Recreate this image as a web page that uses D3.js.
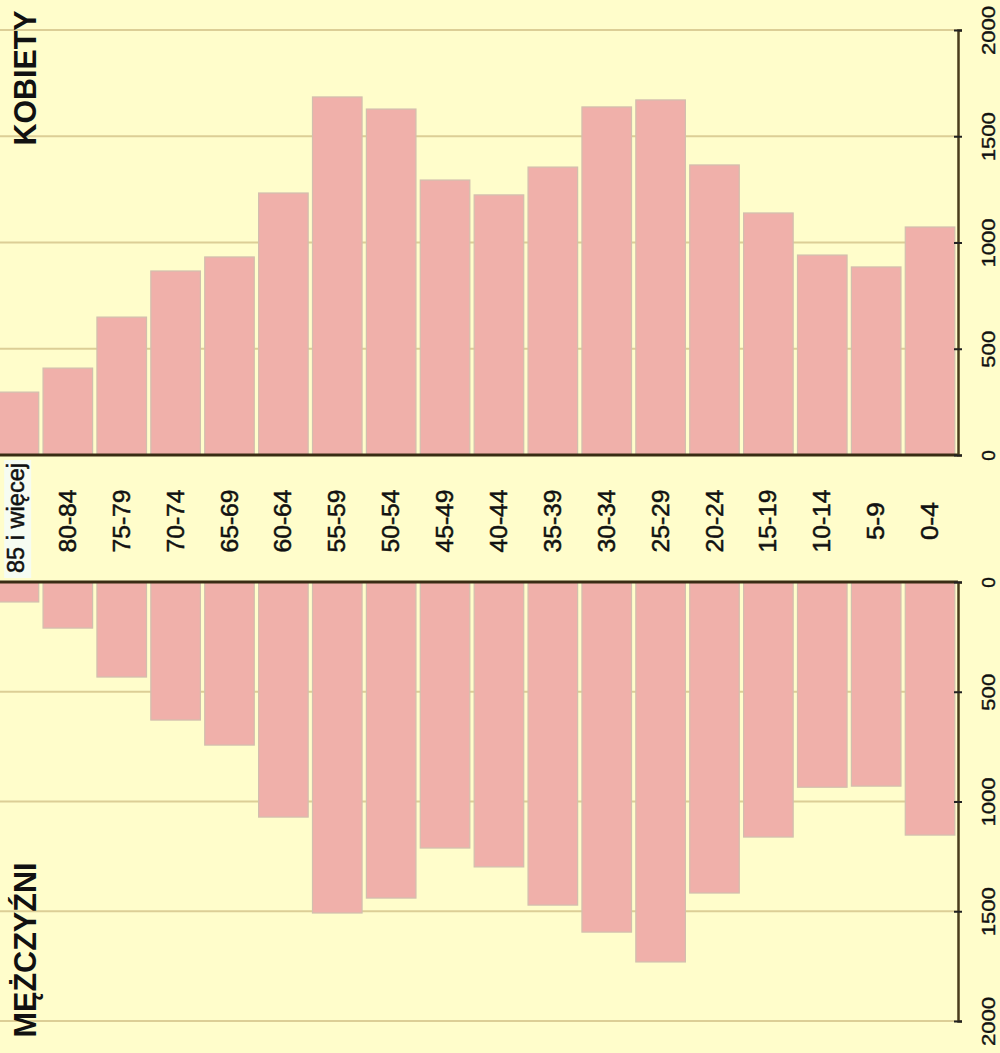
<!DOCTYPE html>
<html>
<head>
<meta charset="utf-8">
<script src="https://cdn.jsdelivr.net/npm/d3@7"></script>
<style>
html,body{margin:0;padding:0;background:#FFFDCB;}
svg{display:block;}
</style>
</head>
<body>
<svg id="chart" width="1000" height="1053"></svg>
<script>
const categories = ["85 i więcej","80-84","75-79","70-74","65-69","60-64","55-59","50-54","45-49","40-44","35-39","30-34","25-29","20-24","15-19","10-14","5-9","0-4"];
const women = [296, 409, 649, 866, 932, 1233, 1685, 1628, 1294, 1224, 1355, 1638, 1671, 1365, 1139, 941, 885, 1073];
const men = [91, 210, 433, 629, 743, 1071, 1508, 1440, 1212, 1298, 1472, 1595, 1731, 1417, 1162, 935, 930, 1153];
const tickValues = [0, 500, 1000, 1500, 2000];
const womenTitle = "KOBIETY";
const menTitle = "MĘŻCZYŹNI";

const svg = d3.select("#chart");
const W = 1000, H = 1053;
const font = "'Liberation Sans', Arial, sans-serif";
const axisX = 958;

svg.append("rect").attr("width", W).attr("height", H).attr("fill", "#FFFDCB");

const x = d3.scaleBand().domain(categories).range([-13, 957]).paddingInner(0.08).paddingOuter(0.04);
const yW = d3.scaleLinear().domain([0, 2000]).range([455, 30]);
const yM = d3.scaleLinear().domain([0, 2000]).range([582, 1021]);

function panel(y, values, up) {
  const g = svg.append("g");
  g.selectAll("line.grid").data(tickValues.filter(d => d > 0)).join("line")
    .attr("x1", 0).attr("x2", axisX)
    .attr("y1", d => y(d)).attr("y2", d => y(d))
    .attr("stroke", "#DCCE96").attr("stroke-width", 2);
  g.selectAll("rect.bar").data(values).join("rect")
    .attr("x", (d, i) => x(categories[i]))
    .attr("width", x.bandwidth())
    .attr("y", d => up ? y(d) : y(0))
    .attr("height", d => Math.abs(y(d) - y(0)))
    .attr("fill", "#F0B0AA")
    .attr("stroke", "#D2BFAE").attr("stroke-width", 1.2);
  g.append("line").attr("x1", 0).attr("x2", axisX)
    .attr("y1", y(0)).attr("y2", y(0))
    .attr("stroke", "#3A2C14").attr("stroke-width", 3);
  const ax = g.append("g").attr("transform", `translate(${axisX},0)`)
    .call(d3.axisRight(y).tickValues(tickValues).tickSize(4).tickFormat(d3.format("d")));
  ax.select(".domain").attr("stroke", "#4A3C1C").attr("stroke-width", 2.5);
  ax.selectAll(".tick line").attr("stroke", "#222").attr("stroke-width", 2).attr("x1", -4).attr("x2", 4);
  ax.selectAll(".tick text")
    .attr("x", 0).attr("dy", null)
    .attr("transform", "translate(30,0) rotate(-90)")
    .attr("text-anchor", "middle").attr("dominant-baseline", "central")
    .attr("font-family", font).attr("font-size", 19).attr("fill", "#111")
    .attr("stroke", "#111").attr("stroke-width", 0.4)
    .each(function(d){ if (String(d).length > 1) d3.select(this).attr("textLength", String(d).length * 12.3).attr("lengthAdjust", "spacingAndGlyphs"); });
}

panel(yW, women, true);
panel(yM, men, false);

svg.append("rect").attr("x", x(categories[0]) + 15).attr("y", 460).attr("width", 27).attr("height", 118)
  .attr("fill", "#F6FCF2");

svg.append("g").selectAll("text").data(categories).join("text")
  .attr("transform", (d, i) => `translate(${i === 0 ? 16 : x(d) + x.bandwidth() / 2},${i === 0 ? 518 : 521}) rotate(-90)`)
  .attr("text-anchor", "middle").attr("dominant-baseline", "central")
  .attr("font-family", font).attr("font-size", 23).attr("fill", "#111")
  .attr("stroke", "#111").attr("stroke-width", 0.5)
  .attr("textLength", (d, i) => i === 0 ? 110 : (d.length === 3 ? 38 : 63))
  .attr("lengthAdjust", "spacingAndGlyphs")
  .text(d => d);

svg.append("text").attr("transform", "translate(25,78) rotate(-90)")
  .attr("text-anchor", "middle").attr("dominant-baseline", "central")
  .attr("font-family", font).attr("font-weight", "bold").attr("font-size", 31).attr("fill", "#111")
  .attr("textLength", 135).attr("lengthAdjust", "spacingAndGlyphs")
  .text(womenTitle);
svg.append("text").attr("transform", "translate(25,950) rotate(-90)")
  .attr("text-anchor", "middle").attr("dominant-baseline", "central")
  .attr("font-family", font).attr("font-weight", "bold").attr("font-size", 31).attr("fill", "#111")
  .attr("textLength", 175).attr("lengthAdjust", "spacingAndGlyphs")
  .text(menTitle);
</script>
</body>
</html>
